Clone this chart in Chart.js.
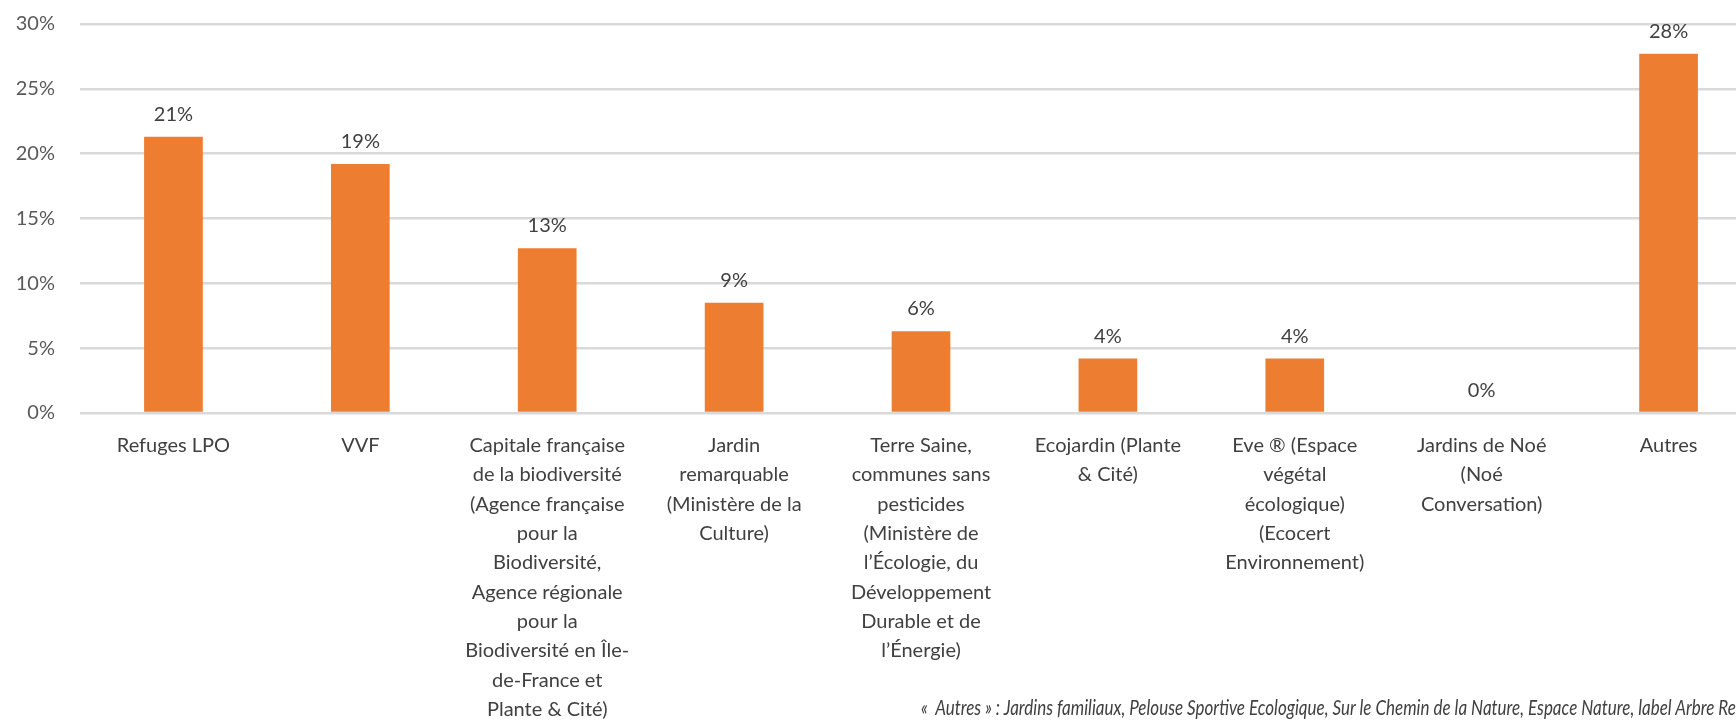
<!DOCTYPE html>
<html>
<head>
<meta charset="utf-8">
<script src="https://cdn.jsdelivr.net/npm/chart.js@4/dist/chart.umd.min.js"></script>
<style>
  html, body { margin: 0; padding: 0; background: #fff; overflow: hidden; width: 1736px; height: 721px; }
  #wrap { position: absolute; left: 0; top: 0; width: 1762px; height: 721px; }
  #note { position: absolute; left: 921px; top: 695px; white-space: nowrap;
          font-family: Lato, sans-serif; font-style: italic; font-size: 21px; line-height: 24px; color: #404040;
          transform: scaleX(0.81); transform-origin: left top; }
</style>
</head>
<body>
<div id="wrap"><canvas id="c"></canvas></div>
<div id="note">«&nbsp; Autres » : Jardins familiaux, Pelouse Sportive Ecologique, Sur le Chemin de la Nature, Espace Nature, label Arbre Remarquable</div>
<script>
const categories = [
  'Refuges LPO',
  'VVF',
  ['Capitale française', 'de la biodiversité', '(Agence française', 'pour la', 'Biodiversité,', 'Agence régionale', 'pour la', 'Biodiversité en Île-', 'de-France et', 'Plante & Cité)'],
  ['Jardin', 'remarquable', '(Ministère de la', 'Culture)'],
  ['Terre Saine,', 'communes sans', 'pesticides', '(Ministère de', 'l’Écologie, du', 'Développement', 'Durable et de', 'l’Énergie)'],
  ['Ecojardin (Plante', '& Cité)'],
  ['Eve ® (Espace', 'végétal', 'écologique)', '(Ecocert', 'Environnement)'],
  ['Jardins de Noé', '(Noé', 'Conversation)'],
  'Autres'
];
const values = [21.3, 19.2, 12.7, 8.5, 6.3, 4.2, 4.2, 0, 27.7];
const yTicks = [0, 5, 10, 15, 20, 25, 30];

const valueLabelPlugin = {
  id: 'valueLabels',
  afterDatasetsDraw(chart) {
    const ctx = chart.ctx;
    const meta = chart.getDatasetMeta(0);
    ctx.save();
    ctx.font = '20px Lato, sans-serif';
    ctx.fillStyle = '#404040';
    ctx.textAlign = 'center';
    ctx.textBaseline = 'alphabetic';
    meta.data.forEach((bar, i) => {
      ctx.fillText(Math.round(values[i]) + '%', bar.x, bar.y - 16);
    });
    ctx.restore();
  }
};

new Chart(document.getElementById('c'), {
  type: 'bar',
  data: {
    labels: categories,
    datasets: [{
      data: values,
      backgroundColor: '#ED7D31',
      borderWidth: 0,
      categoryPercentage: 1,
      barPercentage: 0.314
    }]
  },
  options: {
    responsive: true,
    maintainAspectRatio: false,
    animation: false,
    layout: { padding: { top: 24, left: 0, right: 0, bottom: 0 } },
    plugins: { legend: { display: false }, tooltip: { enabled: false } },
    scales: {
      x: {
        grid: { display: false, drawTicks: false },
        border: { display: false },
        ticks: {
          color: '#404040',
          font: { family: 'Lato, sans-serif', size: 20, lineHeight: 1.465 },
          padding: 18,
          maxRotation: 0,
          autoSkip: false
        },
        afterFit(scale) { scale.height = 308; }
      },
      y: {
        min: 0,
        max: 30,
        afterBuildTicks(scale) { scale.ticks = yTicks.map(v => ({ value: v })); },
        grid: { color: '#d9d9d9', lineWidth: 2.5, drawTicks: true, tickLength: 25, tickColor: 'rgba(0,0,0,0)' },
        border: { display: false },
        ticks: {
          color: '#595959',
          font: { family: 'Lato, sans-serif', size: 20 },
          padding: 0,
          callback: v => v + '%'
        },
        afterFit(scale) { scale.width = 80; }
      }
    }
  },
  plugins: [valueLabelPlugin]
});
</script>
</body>
</html>
